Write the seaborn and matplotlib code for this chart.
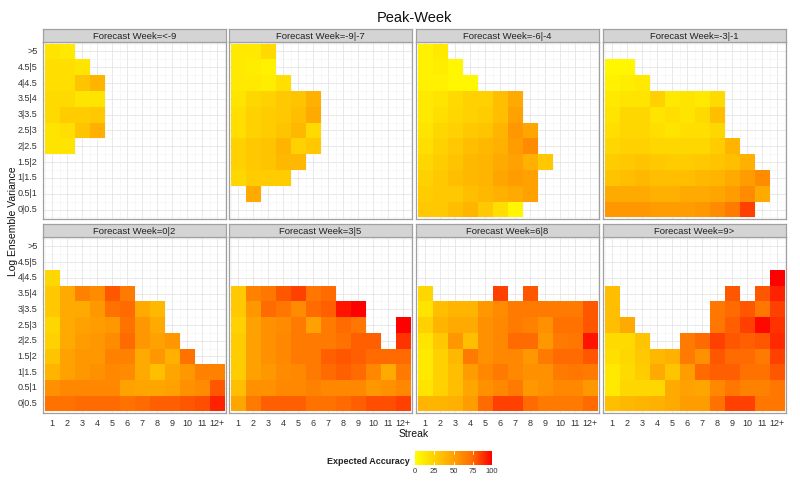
import numpy as np
import matplotlib
matplotlib.use("Agg")
import matplotlib.pyplot as plt
import seaborn as sns
from matplotlib.colors import LinearSegmentedColormap

n = None

row_labels = [">5", "4.5|5", "4|4.5", "3.5|4", "3|3.5", "2.5|3", "2|2.5", "1.5|2", "1|1.5", "0.5|1", "0|0.5"]
streak_labels = ["1", "2", "3", "4", "5", "6", "7", "8", "9", "10", "11", "12+"]
facet_titles = ["Forecast Week=<-9", "Forecast Week=-9|-7", "Forecast Week=-6|-4", "Forecast Week=-3|-1",
                "Forecast Week=0|2", "Forecast Week=3|5", "Forecast Week=6|8", "Forecast Week=9>"]

# rows listed top (>5) to bottom (0|0.5); missing cells are None
week_lt9 = [
    [15, 12],
    [18, 18, 15],
    [18, 18, 32, 40],
    [20, 20, 15, 15],
    [20, 28, 28, 30],
    [15, 18, 32, 42],
    [15, 15],
    [], [], [], [],
]
week_9_7 = [
    [12, 12, 20],
    [12, 10, 8],
    [12, 12, 10, 18],
    [15, 22, 25, 30, 32, 42],
    [18, 25, 28, 30, 35, 45],
    [18, 25, 28, 32, 38, 20],
    [25, 30, 32, 40, 25, 30],
    [25, 30, 32, 38, 38],
    [22, 28, 28, 28],
    [n, 45],
    [],
]
week_6_4 = [
    [8, 12],
    [8, 10, 5],
    [8, 8, 5, 5],
    [12, 15, 20, 25, 25, 35, 45],
    [12, 18, 22, 25, 28, 35, 50],
    [15, 22, 25, 30, 32, 40, 55, 48],
    [18, 25, 30, 35, 38, 42, 52, 60],
    [22, 28, 32, 38, 40, 45, 50, 42, 30],
    [25, 30, 35, 38, 40, 48, 52, 50],
    [28, 30, 30, 35, 38, 42, 45, 50],
    [30, 30, 35, 40, 30, 18, 5],
]
week_3_1 = [
    [],
    [5, 5],
    [8, 10, 12],
    [12, 15, 15, 25, 12, 15, 12, 20],
    [15, 22, 22, 15, 18, 15, 20, 35],
    [18, 22, 22, 18, 15, 18, 18, 22],
    [22, 25, 25, 22, 22, 22, 22, 28, 40],
    [28, 30, 32, 30, 28, 28, 30, 32, 35, 42],
    [32, 35, 38, 35, 35, 35, 38, 40, 45, 52, 60],
    [45, 45, 45, 42, 42, 45, 45, 48, 52, 60, 45],
    [55, 55, 55, 52, 52, 52, 55, 60, 68, 85],
]
week_0_2 = [
    [],
    [],
    [22],
    [30, 45, 65, 60, 80, 68],
    [30, 45, 45, 55, 72, 75, 45, 38],
    [22, 45, 50, 52, 55, 72, 55, 45],
    [25, 45, 52, 55, 60, 75, 55, 50, 55],
    [32, 50, 55, 55, 65, 65, 45, 55, 42, 72],
    [40, 50, 55, 58, 62, 60, 45, 35, 48, 55, 65, 65],
    [58, 62, 62, 62, 62, 50, 48, 48, 50, 58, 60, 80],
    [72, 72, 75, 75, 75, 72, 75, 78, 78, 80, 82, 92],
]
week_3_5 = [
    [],
    [],
    [],
    [30, 65, 70, 80, 85, 70, 75],
    [30, 55, 75, 70, 60, 75, 78, 95, 100],
    [25, 50, 58, 60, 68, 50, 68, 75, 70, n, n, 100],
    [28, 50, 58, 62, 68, 68, 68, 72, 78, 78, n, 88],
    [28, 50, 58, 62, 68, 68, 78, 80, 78, 75, 75, 75],
    [28, 50, 55, 60, 62, 68, 75, 78, 75, 62, 45, 68],
    [35, 58, 58, 62, 62, 65, 62, 62, 62, 55, 58, 62],
    [48, 68, 78, 78, 78, 72, 72, 75, 78, 82, 82, 85],
]
week_6_8 = [
    [],
    [],
    [],
    [22, n, n, n, n, 85, n, 80],
    [15, 35, 40, 40, 55, 60, 68, 68, 68, 68, 68, 80],
    [25, 40, 45, 45, 58, 62, 68, 65, 58, 72, 72, 80],
    [15, 30, 55, 35, 58, 62, 75, 75, 55, 68, 70, 95],
    [12, 25, 38, 68, 58, 62, 62, 55, 68, 75, 75, 80],
    [12, 25, 35, 52, 62, 68, 62, 58, 58, 68, 70, 68],
    [15, 25, 35, 48, 58, 62, 68, 55, 58, 62, 62, 55],
    [40, 40, 42, 52, 75, 85, 85, 75, 68, 68, 68, 75],
]
week_9_up = [
    [],
    [],
    [n, n, n, n, n, n, n, n, n, n, n, 100],
    [35, n, n, n, n, n, n, n, 80, n, 80, 92],
    [35, n, n, n, n, n, n, 70, 75, 80, 70, 85],
    [35, 45, n, n, n, n, n, 70, 78, 85, 98, 88],
    [20, 20, 32, n, n, 68, 75, 85, 80, 78, 80, 90],
    [18, 22, 30, 38, 42, 68, 58, 80, 75, 75, 68, 85],
    [12, 20, 28, 45, 32, 52, 75, 78, 78, 72, 72, 80],
    [12, 22, 22, 22, 45, 50, 48, 62, 70, 65, 65, 70],
    [35, 38, 40, 42, 45, 52, 52, 72, 85, 85, 70, 70],
]
facet_data = [week_lt9, week_9_7, week_6_4, week_3_1, week_0_2, week_3_5, week_6_8, week_9_up]


def to_grid(rows):
    g = np.full((len(row_labels), len(streak_labels)), np.nan)
    for i, r in enumerate(rows):
        for j, v in enumerate(r):
            if v is not None:
                g[i, j] = v
    return g


# yellow -> red ramp (as interpolated in Lab space)
cmap = LinearSegmentedColormap.from_list(
    "yr", ["#FFFF00", "#FFD100", "#FFA100", "#FF6C00", "#FF0000"])

sns.set_theme(style="white")
plt.rcParams["font.family"] = ["Liberation Sans", "DejaVu Sans"]

W, H = 800, 492
fig = plt.figure(figsize=(8, 4.92), dpi=100)


def px(x0, y0, x1, y1):
    return [x0 / W, 1 - y1 / H, (x1 - x0) / W, (y1 - y0) / H]


lefts = [43, 229, 416, 603]
pw = 183
rows_px = [(29, 42, 219), (224, 237, 413)]

for k, rows in enumerate(facet_data):
    r, c = divmod(k, 4)
    st, pt, pb = rows_px[r]
    x0 = lefts[c]
    ax = fig.add_axes(px(x0, pt, x0 + pw, pb))
    sns.heatmap(to_grid(rows), ax=ax, cmap=cmap, vmin=0, vmax=100, cbar=False,
                linewidths=0, xticklabels=streak_labels, yticklabels=row_labels)
    ax.set_xlim(-0.1, 12.1)
    ax.set_ylim(11.1, -0.1)
    ax.set_xticks(np.arange(12) + 0.5)
    ax.set_yticks(np.arange(11) + 0.5)
    ax.set_xticks(np.arange(13), minor=True)
    ax.set_yticks(np.arange(12), minor=True)
    ax.set_axisbelow(True)
    ax.grid(True, which="major", color="#E5E5E5", lw=0.6)
    ax.grid(True, which="minor", color="#F2F2F2", lw=0.4)
    ax.tick_params(which="minor", length=0)
    ax.tick_params(which="major", length=2.5, width=0.5, color="#555555",
                   labelsize=6.5, pad=1.5, labelcolor="#333333")
    if r == 1:
        ax.set_xticklabels(streak_labels, rotation=0)
    else:
        ax.set_xticklabels([])
    if c == 0:
        ax.set_yticklabels(row_labels, rotation=0)
    else:
        ax.set_yticklabels([])
        ax.tick_params(axis="y", length=0)
    if r == 0:
        ax.tick_params(axis="x", length=0)
    ax.set_xlabel("")
    ax.set_ylabel("")
    for s in ax.spines.values():
        s.set_visible(True)
        s.set_color("#A0A0A0")
        s.set_linewidth(0.9)

    sax = fig.add_axes(px(x0, st, x0 + pw, pt))
    sax.set_facecolor("#D4D4D4")
    sax.set_xticks([])
    sax.set_yticks([])
    for s in sax.spines.values():
        s.set_color("#A0A0A0")
        s.set_linewidth(0.9)
    sax.text(0.5, 0.45, facet_titles[k], ha="center", va="center",
             fontsize=6.8, color="#222222", transform=sax.transAxes)

fig.text(414 / W, 1 - 18 / H, "Peak-Week", ha="center", va="center", fontsize=10.5, color="#111111")
fig.text(414 / W, 1 - 434 / H, "Streak", ha="center", va="center", fontsize=7.5, color="#111111")
fig.text(13 / W, 1 - 221 / H, "Log Ensemble Variance", ha="center", va="center",
         rotation=90, fontsize=7.5, color="#111111")

# colour bar
cax = fig.add_axes(px(415, 451, 492, 465))
sm = plt.cm.ScalarMappable(cmap=cmap, norm=plt.Normalize(0, 100))
cb = fig.colorbar(sm, cax=cax, orientation="horizontal", ticks=[0, 25, 50, 75, 100])
cb.outline.set_visible(False)
cax.tick_params(labelsize=5.5, length=0, pad=2, labelcolor="#333333")
for t in [25, 50, 75]:
    cax.axvline(t, color="white", lw=0.6, ymin=0, ymax=0.2)
    cax.axvline(t, color="white", lw=0.6, ymin=0.8, ymax=1)
fig.text(410 / W, 1 - 462 / H, "Expected Accuracy", ha="right", va="center",
         fontsize=6.5, fontweight="bold", color="#222222")

fig.savefig("out.png", dpi=100, facecolor="white")
